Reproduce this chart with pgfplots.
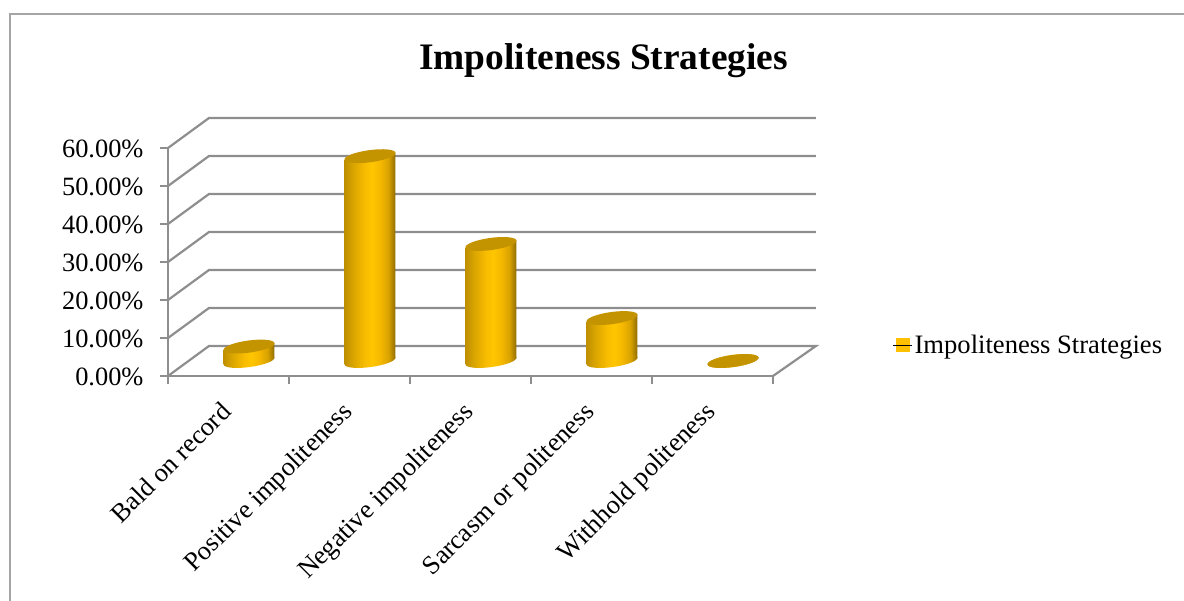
\documentclass[border=0pt]{standalone}
\usepackage{pgfplots}
\pgfplotsset{compat=1.18}
\usepackage{pgfplotstable}
\usepackage{fontspec}
\setmainfont{Liberation Serif}
\definecolor{wall}{HTML}{8E8E8E}
\definecolor{gold}{HTML}{FFC000}
\definecolor{topc}{HTML}{C49400}
\definecolor{s1}{HTML}{BE8F00}
\definecolor{s2}{HTML}{D8A400}
\definecolor{s3}{HTML}{F8BC00}
\definecolor{s4}{HTML}{FFC600}
\definecolor{s5}{HTML}{F5B800}
\definecolor{s6}{HTML}{D8A200}
\definecolor{s7}{HTML}{8F6C00}
\pgfdeclarehorizontalshading{cyl}{100bp}{color(0bp)=(s1);color(25bp)=(s1);color(33bp)=(s2);color(45bp)=(s3);color(52bp)=(s4);color(60bp)=(s5);color(68bp)=(s6);color(75bp)=(s7);color(100bp)=(s7)}
\pgfdeclareplotmark{cyltop}{%
  \pgfpathellipse{\pgfpointorigin}{\pgfqpoint{25.5pt}{3.5pt}}{\pgfqpoint{-1pt}{6pt}}%
  \pgfusepathqfill}
\pgfdeclareplotmark{cylbase}{%
  \pgfpathellipse{\pgfpointorigin}{\pgfqpoint{25.5pt}{3.5pt}}{\pgfqpoint{-1pt}{6pt}}%
  \pgfshadepath{cyl}{0}\pgfusepath{discard}}
\pgfplotstableread{
x val
0.5 3.8
1.5 53.9
2.5 30.8
3.5 11.3
4.5 0
}\bars
\begin{document}
\begin{tikzpicture}[x=1pt,y=1pt]
\useasboundingbox (0,0) rectangle (1184,601);
\draw[color=wall!80!white,line width=1.3pt] (10,0) -- (10,587) -- (1184,587);
\begin{axis}[
  at={(168pt,225pt)},anchor=south west,
  scale only axis,width=605pt,height=228pt,
  xmin=0,xmax=5,ymin=0,ymax=60,clip=false,
  axis lines=left,axis line style={-,color=wall,line width=2.2pt},
  xtick={0.5,1.5,2.5,3.5,4.5},
  xticklabels={Bald on record,Positive impoliteness,Negative impoliteness,Sarcasm or politeness,Withhold politeness},
  minor xtick={0,1,2,3,4,5},
  ytick={0,10,20,30,40,50,60},
  yticklabel={\pgfmathprintnumber[fixed,fixed zerofill,precision=2,assume math mode=true]{\tick}\%},
  tick align=outside,
  major tick length=8pt,minor tick length=8pt,
  xtick style={draw=none},
  ytick style={color=wall,line width=1.5pt},
  minor x tick style={draw=wall,line width=1.5pt},
  tick label style={font=\fontsize{26.4}{28}\selectfont,color=black},
  y tick label style={xshift=-13pt,yshift=-1pt},
  x tick label style={xshift=-9pt,yshift=-11.5pt,rotate=45,anchor=north east},
  title={Impoliteness Strategies},
  title style={at={(0.72,1.355)},anchor=center,font=\fontsize{37.4}{40}\selectfont\bfseries},
]
\addplot[wall,line width=2.2pt] coordinates {(0,0) (0.339,7.9) (5.355,7.9) (5,0)};
\addplot[wall,line width=2.2pt] coordinates {(0,10) (0.339,17.9) (5.355,17.9)};
\addplot[wall,line width=2.2pt] coordinates {(0,20) (0.339,27.9) (5.355,27.9)};
\addplot[wall,line width=2.2pt] coordinates {(0,30) (0.339,37.9) (5.355,37.9)};
\addplot[wall,line width=2.2pt] coordinates {(0,40) (0.339,47.9) (5.355,47.9)};
\addplot[wall,line width=2.2pt] coordinates {(0,50) (0.339,57.9) (5.355,57.9)};
\addplot[wall,line width=2.2pt] coordinates {(0,60) (0.339,67.9) (5.355,67.9)};
\end{axis}
\begin{axis}[
  at={(188.5pt,240pt)},anchor=south west,
  scale only axis,width=605pt,height=228pt,
  xmin=0,xmax=5,ymin=0,ymax=60,clip=false,
  hide axis,
  legend style={at={(1.1645,0.07)},anchor=west,draw=none,fill=none,inner sep=0pt,
    font=\fontsize{26.6}{28}\selectfont,legend cell align=left},
  cylbar/.style={draw=none,shade,shading=cyl,shading angle=0,forget plot},
]
\addplot[only marks,mark=cylbase,forget plot] table[x=x,y expr=0] {\bars};
% sides of each cylinder: left edge lies 0.92 below and right edge 0.92 above the value (tilted ends)
\addplot[cylbar] coordinates {(0.2893,-0.92) (0.2893,2.88) (0.7107,4.72) (0.7107,0.92)} -- cycle;
\addplot[cylbar] coordinates {(1.2893,-0.92) (1.2893,52.98) (1.7107,54.82) (1.7107,0.92)} -- cycle;
\addplot[cylbar] coordinates {(2.2893,-0.92) (2.2893,29.88) (2.7107,31.72) (2.7107,0.92)} -- cycle;
\addplot[cylbar] coordinates {(3.2893,-0.92) (3.2893,10.38) (3.7107,12.22) (3.7107,0.92)} -- cycle;
\addplot[only marks,mark=cyltop,color=topc,forget plot] table[x=x,y=val] {\bars};
\addlegendimage{legend image code/.code={\fill[gold] (3pt,-6.5pt) rectangle (16pt,6.5pt);\path (0pt,0pt) -- (19pt,0pt);}}
\addlegendentry{Impoliteness Strategies}
\end{axis}
\end{tikzpicture}
\end{document}
